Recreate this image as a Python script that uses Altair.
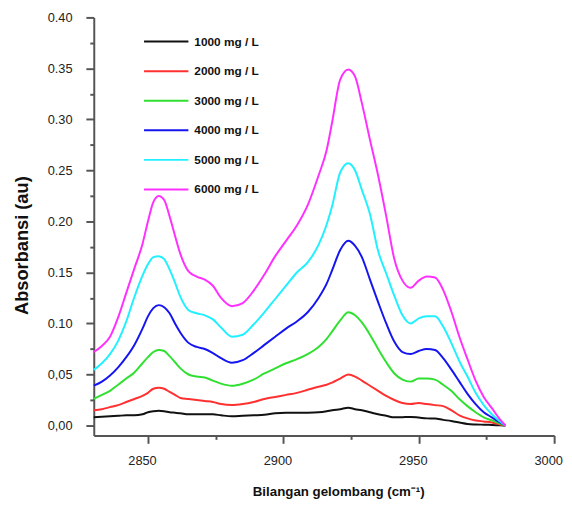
import altair as alt
import pandas as pd

wavenumber = [2830, 2833, 2836, 2839, 2842, 2845, 2848, 2850, 2852, 2854, 2856, 2858, 2860, 2862,
              2865, 2868, 2871, 2874, 2877, 2881, 2885, 2889, 2893, 2897, 2901, 2905, 2909, 2913,
              2916, 2918, 2921, 2924, 2926.5, 2929, 2932, 2935, 2938, 2941, 2944, 2947, 2950, 2953,
              2956, 2959, 2962, 2965, 2968, 2971, 2974, 2977, 2980, 2982]

labels = ["1000 mg / L", "2000 mg / L", "3000 mg / L", "4000 mg / L", "5000 mg / L", "6000 mg / L"]
colors = ["#111111", "#ff3030", "#30e030", "#1515f0", "#20f0ff", "#ff30ff"]

abs_1000 = [0.008, 0.0085, 0.009, 0.0095, 0.010, 0.010, 0.011, 0.013, 0.014, 0.0145, 0.014, 0.013, 0.0125, 0.012,
            0.011, 0.011, 0.011, 0.011, 0.010, 0.009, 0.0095, 0.010, 0.0105, 0.012, 0.0125, 0.0125, 0.0126, 0.013,
            0.014, 0.015, 0.016, 0.0174, 0.016, 0.015, 0.013, 0.011, 0.0095, 0.008, 0.0082, 0.0084, 0.0078, 0.007,
            0.0068, 0.0055, 0.0045, 0.003, 0.0015, 0.001, 0.0008, 0.0006, 0.0003, 0.0]
abs_2000 = [0.015, 0.016, 0.018, 0.020, 0.023, 0.026, 0.029, 0.032, 0.036, 0.037, 0.036, 0.033, 0.030, 0.027,
            0.026, 0.025, 0.024, 0.023, 0.021, 0.020, 0.021, 0.023, 0.026, 0.028, 0.030, 0.032, 0.035, 0.038,
            0.040, 0.042, 0.046, 0.050, 0.048, 0.044, 0.039, 0.034, 0.029, 0.025, 0.022, 0.021, 0.022, 0.021,
            0.020, 0.019, 0.015, 0.010, 0.007, 0.005, 0.004, 0.003, 0.001, 0.0]
abs_3000 = [0.026, 0.030, 0.034, 0.040, 0.046, 0.052, 0.061, 0.067, 0.072, 0.074, 0.073, 0.068, 0.062, 0.056,
            0.050, 0.048, 0.047, 0.044, 0.041, 0.039, 0.041, 0.045, 0.051, 0.056, 0.061, 0.065, 0.070, 0.077,
            0.085, 0.092, 0.103, 0.111, 0.108, 0.101, 0.089, 0.075, 0.062, 0.051, 0.045, 0.043, 0.046, 0.046,
            0.045, 0.040, 0.034, 0.026, 0.019, 0.013, 0.008, 0.005, 0.002, 0.0]
abs_4000 = [0.039, 0.043, 0.049, 0.057, 0.067, 0.079, 0.095, 0.107, 0.115, 0.118, 0.116, 0.110, 0.100, 0.091,
            0.081, 0.077, 0.075, 0.071, 0.066, 0.0616, 0.064, 0.071, 0.079, 0.087, 0.095, 0.102, 0.111, 0.125,
            0.139, 0.152, 0.172, 0.181, 0.176, 0.165, 0.143, 0.121, 0.100, 0.082, 0.072, 0.070, 0.073, 0.075,
            0.074, 0.066, 0.055, 0.043, 0.031, 0.021, 0.013, 0.008, 0.003, 0.0]
abs_5000 = [0.0545, 0.061, 0.070, 0.083, 0.102, 0.126, 0.147, 0.158, 0.165, 0.166, 0.163, 0.153, 0.140, 0.126,
            0.113, 0.110, 0.108, 0.104, 0.096, 0.087, 0.089, 0.099, 0.111, 0.124, 0.137, 0.150, 0.160, 0.177,
            0.197, 0.215, 0.248, 0.257, 0.250, 0.231, 0.207, 0.171, 0.149, 0.127, 0.108, 0.100, 0.105, 0.107,
            0.107, 0.097, 0.081, 0.063, 0.048, 0.032, 0.020, 0.011, 0.004, 0.0]
abs_6000 = [0.072, 0.078, 0.087, 0.106, 0.130, 0.154, 0.178, 0.200, 0.219, 0.225, 0.221, 0.205, 0.186, 0.168,
            0.151, 0.146, 0.143, 0.137, 0.125, 0.117, 0.120, 0.132, 0.148, 0.166, 0.181, 0.196, 0.216, 0.245,
            0.270, 0.297, 0.339, 0.349, 0.342, 0.316, 0.280, 0.245, 0.205, 0.163, 0.142, 0.135, 0.142, 0.146,
            0.145, 0.133, 0.112, 0.087, 0.065, 0.044, 0.028, 0.017, 0.006, 0.0]

series = [abs_1000, abs_2000, abs_3000, abs_4000, abs_5000, abs_6000]

rows = []
for lab, vals in zip(labels, series):
    for x, v in zip(wavenumber, vals):
        rows.append({"wavenumber": x, "absorbance": v, "series": lab})
df = pd.DataFrame(rows)

y_ticks = [i * 0.025 for i in range(17)]
x_ticks = [2850, 2875, 2900, 2925, 2950, 2975, 3000]

FONT = "Liberation Sans"
minor_y = "abs(datum.value*20 - round(datum.value*20)) > 0.01"
minor_x = "datum.value % 50 != 0"

chart = alt.Chart(df).mark_line(strokeWidth=2, interpolate="monotone").encode(
    x=alt.X("wavenumber:Q",
            scale=alt.Scale(domain=[2830, 3000], nice=False, zero=False),
            axis=alt.Axis(values=x_ticks, grid=False, labelFlush=False,
                          labelExpr=f"({minor_x}) ? '' : format(datum.value, 'd')",
                          tickSize={"condition": {"test": minor_x, "value": 4}, "value": 8},
                          labelPadding=12, labelOffset=-6, labelFontSize=13, labelFont=FONT,
                          labelColor="#222222",
                          title="Bilangan gelombang (cm\u207b\u00b9)", titleFont=FONT,
                          titleFontSize=13.5, titleFontWeight="bold", titleColor="#111111",
                          titleX=248, titleY=57, titleAlign="center", titleBaseline="middle")),
    y=alt.Y("absorbance:Q",
            scale=alt.Scale(domain=[-0.0097, 0.40], nice=False, zero=False),
            axis=alt.Axis(values=y_ticks, grid=False, labelFlush=False,
                          labelExpr=f"({minor_y}) ? '' : (datum.value < 0.07 ? replace(format(datum.value, '.2f'), '.', ',') : format(datum.value, '.2f'))",
                          tickSize={"condition": {"test": minor_y, "value": 4}, "value": 8},
                          labelPadding=14, labelFontSize=13, labelFont=FONT, labelColor="#222222",
                          title="Absorbansi (au)", titleFont=FONT, titleFontSize=18.5,
                          titleFontWeight="bold", titleColor="#111111", titleAngle=270,
                          titleX=-73, titleY=231, titleAlign="center", titleBaseline="middle")),
    color=alt.Color("series:N",
                    scale=alt.Scale(domain=labels, range=colors),
                    legend=alt.Legend(orient="none", legendX=50, legendY=1, title=None,
                                      symbolType="stroke", symbolSize=2025, symbolStrokeWidth=2,
                                      labelFont=FONT, labelFontSize=12, labelFontWeight="bold",
                                      labelColor="#111111", labelOffset=5, rowPadding=-11,
                                      padding=0)),
    order=alt.Order("series:N"),
).properties(
    width=467,
    height=424,
    autosize="none",
    padding={"left": 87, "top": 6, "right": 10, "bottom": 64},
).configure_view(
    stroke=None
).configure_axis(
    domainColor="#555555", domainWidth=2, tickColor="#555555", tickWidth=2
)

chart.save("out.html", embed_options={"renderer": "svg", "actions": False})
